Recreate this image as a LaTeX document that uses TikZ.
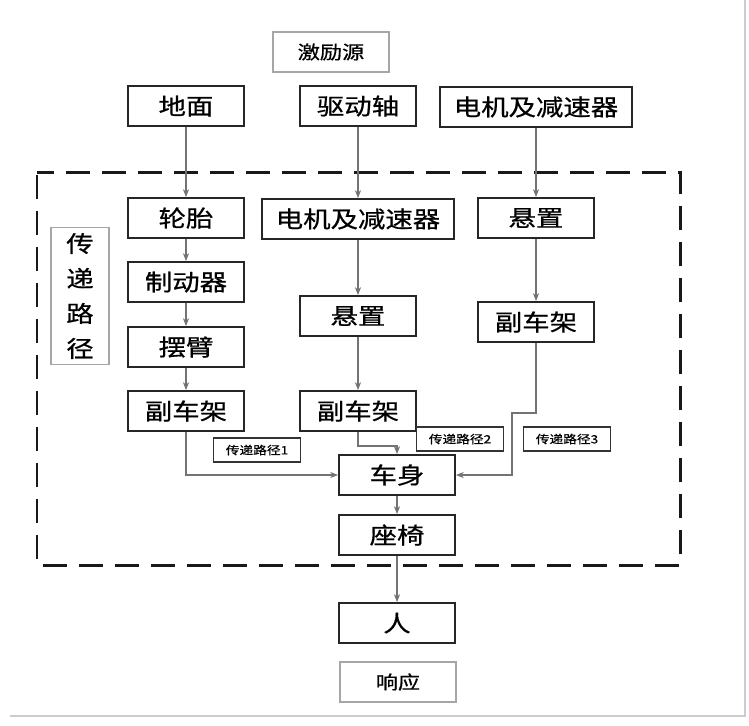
\documentclass[tikz,border=0pt]{standalone}
\usepackage{fontspec}
\newfontfamily\cjk[FakeStretch=1.2,FakeBold=0.7]{Noto Sans CJK SC}
\usepackage{tikz}
\usetikzlibrary{arrows.meta,positioning,calc}

\tikzset{
  box/.style={draw=black!85, line width=1.1pt, minimum width=2.32cm, minimum height=0.8cm, inner xsep=0.28cm, font=\cjk\fontsize{13}{15}\selectfont},
  endbox/.style={draw=black!35, line width=0.7pt, minimum width=2.32cm, minimum height=0.8cm, font=\cjk\fontsize{10.5}{12}\selectfont},
  tag/.style={draw=black!80, line width=0.9pt, minimum width=1.74cm, minimum height=0.48cm, inner sep=1pt, font=\cjk\fontsize{6.5}{8}\selectfont},
  link/.style={draw=black!55, line width=0.6pt, -{Stealth[length=4.5pt,width=3.5pt]}},
}

\begin{document}
\begin{tikzpicture}[x=0.02cm, y=-0.02cm]
        \useasboundingbox (0,0) rectangle (749,725);
        % Frame of the scan
        \draw[black!20, line width=0.6pt] (745,0) -- (745,716) -- (10,716);

        % Excitation sources
        \node[endbox] (src) at (331,52) {激励源};
        \node[box] (ground) at (186,106) {地面};
        \node[box] (shaft) at (358,106) {驱动轴};
        \node[box] (motorA) at (536,107) {电机及减速器};

        % Transfer paths
        \draw[black!90, line width=1.7pt, dash pattern=on 0.48cm off 0.24cm, dash phase=-0.06cm] (37,172) rectangle (680,565);
        \node[draw=black!35, line width=0.7pt, minimum width=1.16cm, minimum height=2.72cm, align=center,
              font=\cjk\fontsize{13}{19.9}\selectfont] (pathlab) at (80,296) {传\\递\\路\\径};

        \node[box] (tire) at (186,218) {轮胎};
        \node[box] (brake) at (186,282) {制动器};
        \node[box] (arm) at (186,347) {摆臂};
        \node[box] (subA) at (186,411) {副车架};

        \node[box] (motorB) at (358,219) {电机及减速器};
        \node[box] (mountB) at (358,316) {悬置};
        \node[box] (subB) at (358,411) {副车架};

        \node[box] (mountA) at (536,218) {悬置};
        \node[box] (subC) at (536,322) {副车架};

        \node[tag] (tag1) at (257,450) {传递路径1};
        \node[tag] (tag2) at (460,439) {传递路径2};
        \node[tag] (tag3) at (567,439) {传递路径3};

        \node[box] (body) at (397,475) {车身};
        \node[box] (seat) at (397,535) {座椅};

        % Response
        \node[box] (human) at (397,623) {人};
        \node[endbox] (resp) at (398,682) {响应};

        % Connectors
        \draw[link] (ground) -- (tire);
        \draw[link] (shaft) -- (motorB);
        \draw[link] (motorA) -- (mountA);
        \draw[link] (tire) -- (brake);
        \draw[link] (brake) -- (arm);
        \draw[link] (arm) -- (subA);
        \draw[link] (motorB) -- (mountB);
        \draw[link] (mountB) -- (subB);
        \draw[link] (mountA) -- (subC);
        \draw[link] (subA.south) |- (body.west);
        \draw[link] (subB.south) -- ++(0,14) -| (body.north);
        \coordinate (bendC) at (512,413);
        \draw[link] (subC.south) |- (bendC) |- (body.east);
        \draw[link] (body) -- (seat);
        \draw[link] (seat) -- (human);
      \end{tikzpicture}
\end{document}
